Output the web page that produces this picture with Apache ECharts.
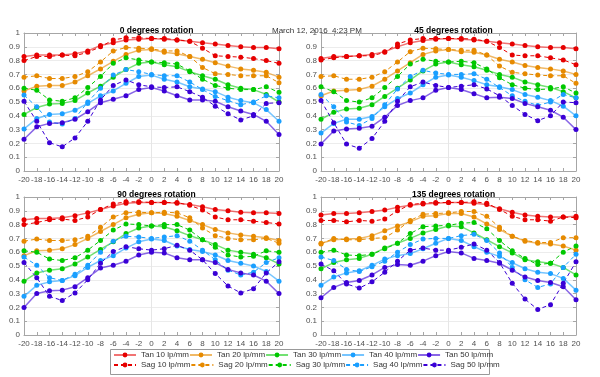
<!DOCTYPE html>
<html>
<head>
    <meta charset="utf-8">
    <script src="https://cdn.jsdelivr.net/npm/echarts@6/dist/echarts.min.js"></script>
</head>
<body style="margin:0">
    <div id="main" style="width: 600px;height:377px;"></div>
    <script type="text/javascript">
        // field positions (x axis)
        var xs = [-20, -18, -16, -14, -12, -10, -8, -6, -4, -2, 0, 2, 4, 6, 8, 10, 12, 14, 16, 18, 20];
        var titles = ['0 degrees rotation', '45 degrees rotation', '90 degrees rotation', '135 degrees rotation'];
        var freqs = ['10', '20', '30', '40', '50'];
        var colors = ['#e60000', '#e68a00', '#00c800', '#1a9fff', '#3a00d6'];
        var tanColors = ['rgba(230,0,0,0.55)', 'rgba(230,138,0,0.6)', 'rgba(0,200,0,0.55)', 'rgba(26,159,255,0.6)', 'rgba(58,0,214,0.6)'];

        // 0 degrees
        var tan10_r0 = [0.83, 0.84, 0.84, 0.84, 0.85, 0.87, 0.91, 0.93, 0.95, 0.955, 0.96, 0.955, 0.95, 0.94, 0.93, 0.92, 0.91, 0.90, 0.895, 0.895, 0.885];
        var sag10_r0 = [0.80, 0.83, 0.83, 0.84, 0.835, 0.86, 0.90, 0.95, 0.965, 0.965, 0.96, 0.96, 0.95, 0.94, 0.89, 0.835, 0.83, 0.825, 0.815, 0.80, 0.78];
        var tan20_r0 = [0.58, 0.615, 0.62, 0.62, 0.645, 0.69, 0.74, 0.795, 0.845, 0.875, 0.88, 0.86, 0.85, 0.83, 0.81, 0.785, 0.76, 0.74, 0.73, 0.715, 0.68];
        var sag20_r0 = [0.68, 0.69, 0.67, 0.67, 0.685, 0.72, 0.79, 0.87, 0.895, 0.89, 0.885, 0.87, 0.87, 0.83, 0.75, 0.705, 0.70, 0.69, 0.69, 0.69, 0.64];
        var tan30_r0 = [0.41, 0.46, 0.485, 0.49, 0.51, 0.565, 0.615, 0.68, 0.735, 0.78, 0.79, 0.77, 0.755, 0.72, 0.69, 0.665, 0.625, 0.60, 0.59, 0.555, 0.50];
        var sag30_r0 = [0.60, 0.585, 0.515, 0.505, 0.53, 0.605, 0.685, 0.78, 0.82, 0.805, 0.79, 0.785, 0.775, 0.725, 0.665, 0.62, 0.60, 0.59, 0.59, 0.61, 0.57];
        var tan40_r0 = [0.305, 0.38, 0.41, 0.415, 0.44, 0.49, 0.545, 0.58, 0.635, 0.685, 0.695, 0.665, 0.645, 0.61, 0.595, 0.575, 0.535, 0.51, 0.495, 0.445, 0.36];
        var sag40_r0 = [0.55, 0.465, 0.355, 0.34, 0.38, 0.50, 0.60, 0.695, 0.735, 0.72, 0.70, 0.69, 0.69, 0.645, 0.59, 0.54, 0.51, 0.48, 0.50, 0.545, 0.53];
        var tan50_r0 = [0.23, 0.32, 0.345, 0.35, 0.375, 0.43, 0.495, 0.52, 0.545, 0.59, 0.605, 0.58, 0.545, 0.515, 0.515, 0.505, 0.465, 0.435, 0.41, 0.36, 0.265];
        var sag50_r0 = [0.505, 0.36, 0.205, 0.175, 0.24, 0.36, 0.515, 0.62, 0.66, 0.625, 0.61, 0.605, 0.61, 0.575, 0.535, 0.47, 0.415, 0.37, 0.40, 0.49, 0.495];

        // 45 degrees
        var tan10_r45 = [0.815, 0.83, 0.83, 0.835, 0.845, 0.865, 0.90, 0.93, 0.945, 0.955, 0.96, 0.955, 0.95, 0.94, 0.93, 0.92, 0.91, 0.90, 0.895, 0.895, 0.885];
        var sag10_r45 = [0.805, 0.82, 0.83, 0.835, 0.835, 0.86, 0.92, 0.95, 0.96, 0.96, 0.96, 0.96, 0.955, 0.94, 0.895, 0.84, 0.835, 0.835, 0.82, 0.805, 0.77];
        var tan20_r45 = [0.545, 0.58, 0.585, 0.59, 0.615, 0.665, 0.725, 0.785, 0.845, 0.87, 0.88, 0.865, 0.86, 0.84, 0.81, 0.79, 0.765, 0.75, 0.74, 0.725, 0.70];
        var sag20_r45 = [0.685, 0.69, 0.665, 0.665, 0.68, 0.72, 0.79, 0.865, 0.89, 0.885, 0.88, 0.875, 0.875, 0.84, 0.76, 0.715, 0.705, 0.695, 0.69, 0.69, 0.635];
        var tan30_r45 = [0.375, 0.425, 0.45, 0.455, 0.48, 0.54, 0.60, 0.66, 0.725, 0.775, 0.79, 0.77, 0.755, 0.73, 0.70, 0.68, 0.645, 0.625, 0.605, 0.575, 0.53];
        var sag30_r45 = [0.61, 0.575, 0.51, 0.50, 0.53, 0.605, 0.685, 0.775, 0.81, 0.795, 0.79, 0.795, 0.785, 0.74, 0.675, 0.625, 0.60, 0.59, 0.595, 0.61, 0.565];
        var tan40_r45 = [0.275, 0.345, 0.375, 0.375, 0.395, 0.465, 0.525, 0.565, 0.625, 0.68, 0.695, 0.68, 0.655, 0.625, 0.61, 0.59, 0.555, 0.535, 0.51, 0.47, 0.40];
        var sag40_r45 = [0.555, 0.465, 0.355, 0.33, 0.38, 0.48, 0.595, 0.685, 0.73, 0.71, 0.70, 0.70, 0.705, 0.665, 0.605, 0.545, 0.505, 0.475, 0.50, 0.555, 0.53];
        var tan50_r45 = [0.195, 0.29, 0.305, 0.31, 0.325, 0.39, 0.475, 0.51, 0.53, 0.585, 0.605, 0.59, 0.56, 0.53, 0.535, 0.525, 0.49, 0.465, 0.44, 0.39, 0.30];
        var sag50_r45 = [0.51, 0.35, 0.195, 0.165, 0.235, 0.36, 0.505, 0.61, 0.645, 0.62, 0.605, 0.615, 0.625, 0.595, 0.545, 0.475, 0.41, 0.365, 0.40, 0.50, 0.495];

        // 90 degrees
        var tan10_r90 = [0.835, 0.845, 0.845, 0.85, 0.865, 0.885, 0.91, 0.935, 0.955, 0.96, 0.96, 0.96, 0.955, 0.945, 0.93, 0.91, 0.90, 0.89, 0.885, 0.885, 0.88];
        var sag10_r90 = [0.80, 0.815, 0.835, 0.84, 0.83, 0.855, 0.91, 0.95, 0.965, 0.965, 0.96, 0.96, 0.96, 0.94, 0.905, 0.855, 0.835, 0.835, 0.825, 0.815, 0.805];
        var tan20_r90 = [0.575, 0.61, 0.615, 0.625, 0.655, 0.70, 0.75, 0.80, 0.85, 0.875, 0.885, 0.88, 0.86, 0.83, 0.80, 0.765, 0.74, 0.725, 0.715, 0.705, 0.685];
        var sag20_r90 = [0.68, 0.695, 0.685, 0.685, 0.69, 0.715, 0.78, 0.855, 0.885, 0.89, 0.885, 0.89, 0.885, 0.85, 0.775, 0.72, 0.70, 0.69, 0.69, 0.70, 0.665];
        var tan30_r90 = [0.39, 0.45, 0.47, 0.48, 0.515, 0.565, 0.62, 0.675, 0.735, 0.775, 0.79, 0.785, 0.755, 0.72, 0.69, 0.655, 0.615, 0.60, 0.585, 0.56, 0.515];
        var sag30_r90 = [0.61, 0.60, 0.55, 0.54, 0.56, 0.615, 0.685, 0.76, 0.805, 0.80, 0.79, 0.80, 0.80, 0.76, 0.69, 0.635, 0.58, 0.565, 0.57, 0.61, 0.60];
        var tan40_r90 = [0.28, 0.36, 0.385, 0.395, 0.43, 0.49, 0.54, 0.575, 0.63, 0.675, 0.695, 0.685, 0.645, 0.62, 0.605, 0.58, 0.54, 0.52, 0.50, 0.46, 0.39];
        var sag40_r90 = [0.565, 0.505, 0.415, 0.395, 0.44, 0.505, 0.60, 0.68, 0.715, 0.71, 0.70, 0.71, 0.72, 0.68, 0.615, 0.545, 0.47, 0.435, 0.455, 0.525, 0.56];
        var tan50_r90 = [0.20, 0.30, 0.32, 0.325, 0.35, 0.415, 0.485, 0.505, 0.535, 0.58, 0.60, 0.595, 0.56, 0.545, 0.545, 0.525, 0.475, 0.45, 0.435, 0.39, 0.30];
        var sag50_r90 = [0.525, 0.415, 0.28, 0.25, 0.305, 0.40, 0.52, 0.605, 0.64, 0.625, 0.615, 0.625, 0.65, 0.615, 0.545, 0.445, 0.355, 0.305, 0.335, 0.45, 0.53];

        // 135 degrees
        var tan10_r135 = [0.87, 0.88, 0.88, 0.885, 0.895, 0.905, 0.925, 0.94, 0.95, 0.955, 0.96, 0.96, 0.955, 0.945, 0.915, 0.89, 0.87, 0.86, 0.855, 0.855, 0.86];
        var sag10_r135 = [0.83, 0.83, 0.82, 0.83, 0.825, 0.84, 0.90, 0.945, 0.955, 0.96, 0.96, 0.96, 0.965, 0.955, 0.91, 0.86, 0.835, 0.835, 0.825, 0.855, 0.85];
        var tan20_r135 = [0.665, 0.69, 0.695, 0.70, 0.72, 0.755, 0.79, 0.82, 0.86, 0.865, 0.88, 0.88, 0.855, 0.805, 0.765, 0.715, 0.68, 0.665, 0.66, 0.645, 0.615];
        var sag20_r135 = [0.66, 0.70, 0.69, 0.69, 0.70, 0.705, 0.76, 0.83, 0.875, 0.88, 0.885, 0.895, 0.895, 0.86, 0.78, 0.715, 0.685, 0.67, 0.67, 0.705, 0.705];
        var tan30_r135 = [0.48, 0.525, 0.545, 0.555, 0.585, 0.63, 0.665, 0.70, 0.74, 0.765, 0.79, 0.785, 0.74, 0.69, 0.64, 0.595, 0.545, 0.53, 0.52, 0.49, 0.435];
        var sag30_r135 = [0.60, 0.615, 0.58, 0.575, 0.585, 0.625, 0.665, 0.735, 0.785, 0.79, 0.795, 0.81, 0.815, 0.77, 0.685, 0.61, 0.555, 0.51, 0.52, 0.60, 0.645];
        var tan40_r135 = [0.36, 0.42, 0.45, 0.465, 0.505, 0.55, 0.575, 0.59, 0.625, 0.665, 0.70, 0.685, 0.64, 0.60, 0.57, 0.525, 0.48, 0.455, 0.445, 0.41, 0.325];
        var sag40_r135 = [0.565, 0.54, 0.475, 0.46, 0.495, 0.535, 0.60, 0.655, 0.695, 0.70, 0.70, 0.72, 0.73, 0.685, 0.595, 0.49, 0.40, 0.345, 0.37, 0.49, 0.585];
        var tan50_r135 = [0.27, 0.345, 0.38, 0.395, 0.435, 0.49, 0.51, 0.505, 0.535, 0.575, 0.605, 0.595, 0.555, 0.54, 0.52, 0.47, 0.42, 0.395, 0.38, 0.35, 0.255];
        var sag50_r135 = [0.515, 0.465, 0.37, 0.34, 0.385, 0.455, 0.535, 0.615, 0.63, 0.615, 0.615, 0.635, 0.66, 0.615, 0.525, 0.375, 0.26, 0.185, 0.22, 0.375, 0.53];

        var plots = [
            [tan10_r0, sag10_r0, tan20_r0, sag20_r0, tan30_r0, sag30_r0, tan40_r0, sag40_r0, tan50_r0, sag50_r0],
            [tan10_r45, sag10_r45, tan20_r45, sag20_r45, tan30_r45, sag30_r45, tan40_r45, sag40_r45, tan50_r45, sag50_r45],
            [tan10_r90, sag10_r90, tan20_r90, sag20_r90, tan30_r90, sag30_r90, tan40_r90, sag40_r90, tan50_r90, sag50_r90],
            [tan10_r135, sag10_r135, tan20_r135, sag20_r135, tan30_r135, sag30_r135, tan40_r135, sag40_r135, tan50_r135, sag50_r135]
        ];

        var font = 'Liberation Sans, Arial, sans-serif';
        var axisColor = '#a6a6a6';
        var labelColor = '#505050';

        // grid boxes: [left, top]
        var gridPos = [[24, 33], [321, 33], [24, 197], [321, 197]];

        var grid = [], xAxis = [], yAxis = [], series = [], title = [];

        function pairs(vals) {
            var out = [];
            for (var i = 0; i < xs.length; i++) {
                out.push([xs[i], vals[i]]);
            }
            return out;
        }

        for (var g = 0; g < 4; g++) {
            grid.push({left: gridPos[g][0], top: gridPos[g][1], width: 255, height: 138});
            title.push({
                text: titles[g],
                left: gridPos[g][0] + 127.5,
                top: gridPos[g][1] - 12,
                textAlign: 'center',
                textStyle: {fontSize: 8.5, fontWeight: 'bold', color: '#000', fontFamily: font}
            });
            var xBase = {
                gridIndex: g, type: 'value', min: -20, max: 20, interval: 2,
                axisLine: {onZero: false, lineStyle: {color: axisColor}},
                axisTick: {inside: true, length: 3, lineStyle: {color: axisColor}},
                splitLine: {show: false}
            };
            xAxis.push(Object.assign({}, xBase, {
                position: 'bottom',
                axisLabel: {fontSize: 8, color: labelColor, margin: 5, fontFamily: font,
                    showMinLabel: true, showMaxLabel: true, hideOverlap: false}
            }));
            xAxis.push(Object.assign({}, xBase, {position: 'top', axisLabel: {show: false}}));
            var yBase = {
                gridIndex: g, type: 'value', min: 0, max: 1, interval: 0.1,
                axisLine: {show: true, onZero: false, lineStyle: {color: axisColor}},
                axisTick: {show: true, inside: true, length: 3, lineStyle: {color: axisColor}}
            };
            yAxis.push(Object.assign({}, yBase, {
                position: 'left',
                splitLine: {show: true, lineStyle: {color: '#ececec'}},
                axisLabel: {fontSize: 8, color: labelColor, margin: 4, fontFamily: font}
            }));
            yAxis.push(Object.assign({}, yBase, {position: 'right', splitLine: {show: false}, axisLabel: {show: false}}));

            for (var k = 0; k < 10; k++) {
                var f = Math.floor(k / 2);
                var isTan = (k % 2 == 0);
                var s = {
                    name: (isTan ? 'Tan ' : 'Sag ') + freqs[f] + ' lp/mm',
                    type: 'line',
                    xAxisIndex: g * 2,
                    yAxisIndex: g * 2,
                    symbol: 'circle',
                    symbolSize: 5,
                    showSymbol: true,
                    animation: false,
                    itemStyle: {color: colors[f]},
                    lineStyle: isTan
                        ? {color: tanColors[f], width: 1.5, type: 'solid'}
                        : {color: colors[f], width: 1, type: [4, 3]},
                    data: pairs(plots[g][k])
                };
                if (k == 0) {
                    s.markLine = {
                        silent: true,
                        symbol: 'none',
                        z: 1,
                        label: {show: false},
                        lineStyle: {color: '#e6e6e6', type: 'solid', width: 1},
                        data: [{xAxis: 0}]
                    };
                }
                series.push(s);
            }
        }

        var tanNames = [], sagNames = [];
        for (var i = 0; i < 5; i++) {
            tanNames.push('Tan ' + freqs[i] + ' lp/mm');
            sagNames.push('Sag ' + freqs[i] + ' lp/mm');
        }

        var legendBase = {
            left: 113,
            orient: 'horizontal',
            padding: 0,
            itemWidth: 22,
            itemHeight: 6,
            itemGap: 0,
            textStyle: {fontSize: 8, color: '#333', width: 51, fontFamily: font}
        };

        var option = {
            backgroundColor: '#fff',
            animation: false,
            title: title.concat([{
                text: 'March 12, 2016  4:23 PM',
                left: 267,
                top: 22,
                textStyle: {fontSize: 8, fontWeight: 'normal', color: '#333', fontFamily: font}
            }]),
            grid: grid,
            xAxis: xAxis,
            yAxis: yAxis,
            legend: [
                Object.assign({}, legendBase, {data: tanNames, top: 351}),
                Object.assign({}, legendBase, {data: sagNames, top: 361})
            ],
            graphic: [{
                type: 'rect',
                left: 108,
                top: 347,
                shape: {width: 379, height: 25},
                style: {fill: 'none', stroke: '#999', lineWidth: 1},
                silent: true
            }],
            series: series
        };

        var myChart = echarts.init(document.getElementById('main'));
        myChart.setOption(option);
    </script>
</body>
</html>
